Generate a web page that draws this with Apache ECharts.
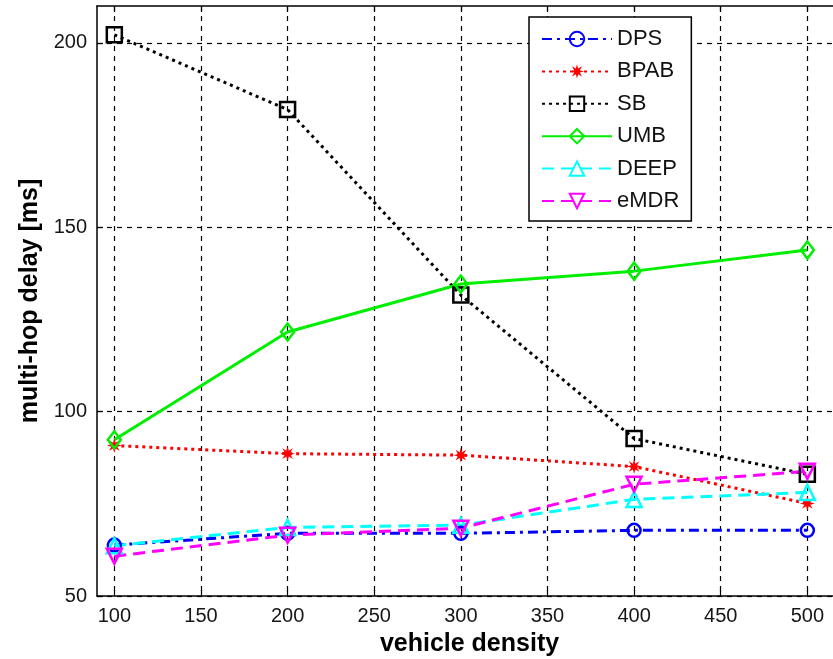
<!DOCTYPE html>
<html>
<head>
<meta charset="utf-8">
<script src="https://cdn.jsdelivr.net/npm/echarts@6/dist/echarts.min.js"></script>
<style>
html,body{margin:0;padding:0;background:#fff;}
#chart{width:833px;height:659px;}
</style>
</head>
<body>
<div id="chart"></div>
<script>
const densities = [100, 200, 300, 400, 500];
const xTickValues = [100, 150, 200, 250, 300, 350, 400, 450, 500];
const yTickValues = [50, 100, 150, 200];
const seriesNames = ['DPS', 'BPAB', 'SB', 'UMB', 'DEEP', 'eMDR'];
const dpsDelay  = [63.8, 67.0, 67.0, 67.8, 67.8];
const bpabDelay = [90.8, 88.6, 88.2, 85.1, 75.1];
const sbDelay   = [202.2, 181.9, 131.6, 92.7, 83.0];
const umbDelay  = [92.4, 121.6, 134.6, 138.1, 143.8];
const deepDelay = [63.6, 68.6, 69.2, 76.2, 78.1];
const emdrDelay = [60.8, 66.5, 68.4, 80.3, 83.8];

const pair = arr => densities.map((x, i) => [x, arr[i]]);

const starPath = (function () {
  const pts = [];
  for (let k = 0; k < 16; k++) {
    const a = Math.PI / 2 + k * Math.PI / 8;
    const r = (k % 2 === 0) ? 10 : 4.2;
    pts.push((10 + r * Math.cos(a)).toFixed(2) + ',' + (10 - r * Math.sin(a)).toFixed(2));
  }
  return 'path://M' + pts.join('L') + 'Z';
})();

function mkSeries(name, data, color, dash, symbol, size, filled) {
  return {
    name: name,
    type: 'line',
    data: pair(data),
    symbol: symbol,
    symbolSize: size,
    lineStyle: { color: color, width: 3, type: dash },
    itemStyle: filled
      ? { color: color, borderColor: color, borderWidth: 0 }
      : { color: 'rgba(0,0,0,0)', borderColor: color, borderWidth: 2.5 },
    emphasis: { disabled: true },
    animation: false
  };
}

const chart = echarts.init(document.getElementById('chart'), null, { renderer: 'canvas' });
const tickFont = { fontFamily: 'Liberation Sans, Arial, sans-serif', fontSize: 20, color: '#161616' };

chart.setOption({
  backgroundColor: '#fff',
  animation: false,
  grid: { left: 97, top: 6, width: 745, height: 590, show: false, containLabel: false, outerBoundsMode: 'none' },
  xAxis: [{
    type: 'value', min: 90, max: 520, position: 'bottom',
    name: 'vehicle density', nameLocation: 'middle', nameGap: 36,
    nameTextStyle: { fontFamily: 'Liberation Sans, Arial, sans-serif', fontSize: 25, fontWeight: 'bold', color: '#000' },
    axisLine: { show: true, onZero: false, lineStyle: { color: '#000', width: 1.5 } },
    axisTick: { show: true, inside: true, length: 6, customValues: xTickValues, lineStyle: { color: '#000', width: 1.2 } },
    axisLabel: Object.assign({ customValues: xTickValues, margin: 10 }, tickFont),
    splitLine: { show: true, lineStyle: { color: '#000', width: 1.2, type: [5, 5] } }
  }, {
    type: 'value', min: 90, max: 520, position: 'top',
    axisLine: { show: true, onZero: false, lineStyle: { color: '#000', width: 1.5 } },
    axisTick: { show: true, inside: true, length: 6, customValues: xTickValues, lineStyle: { color: '#000', width: 1.2 } },
    axisLabel: { show: false },
    splitLine: { show: false }
  }],
  yAxis: [{
    type: 'value', min: 50, max: 210, position: 'left',
    name: 'multi-hop delay [ms]', nameLocation: 'middle', nameGap: 52,
    nameTextStyle: { fontFamily: 'Liberation Sans, Arial, sans-serif', fontSize: 25, fontWeight: 'bold', color: '#000' },
    axisLine: { show: true, onZero: false, lineStyle: { color: '#000', width: 1.5 } },
    axisTick: { show: true, inside: true, length: 6, customValues: yTickValues, lineStyle: { color: '#000', width: 1.2 } },
    axisLabel: Object.assign({ customValues: yTickValues, margin: 10 }, tickFont),
    splitLine: { show: true, lineStyle: { color: '#000', width: 1.2, type: [5, 5] } }
  }],
  legend: {
    left: 529, top: 17,
    orient: 'vertical',
    data: seriesNames,
    itemWidth: 70, itemHeight: 18, itemGap: 10.4,
    padding: [11, 12, 9, 12],
    backgroundColor: '#fff',
    borderColor: '#000', borderWidth: 1.5,
    textStyle: { fontFamily: 'Liberation Sans, Arial, sans-serif', fontSize: 22, color: '#111' },
    selectedMode: false
  },
  series: [
    mkSeries('DPS', dpsDelay, '#0000ff', [10, 5, 3, 5], 'circle', 13, false),
    mkSeries('BPAB', bpabDelay, '#ff0000', [3, 4], starPath, 15, true),
    mkSeries('SB', sbDelay, '#000000', [3, 4], 'rect', 15, false),
    mkSeries('UMB', umbDelay, '#00ee00', 'solid', 'diamond', [13, 17], false),
    mkSeries('DEEP', deepDelay, '#00ffff', [12, 7], 'triangle', 15, false),
    mkSeries('eMDR', emdrDelay, '#ff00ff', [12, 7], 'path://M0,0L10,0L5,9Z', 15, false)
  ]
});
</script>
</body>
</html>
